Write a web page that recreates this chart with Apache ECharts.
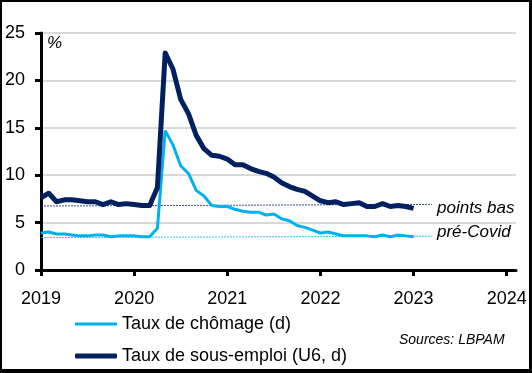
<!DOCTYPE html>
<html>
<head>
<meta charset="utf-8">
<script src="https://cdn.jsdelivr.net/npm/echarts@6/dist/echarts.min.js"></script>
<style>
html,body{margin:0;padding:0;background:#fff;}
#wrap{position:absolute;left:0;top:0;width:532px;height:373px;box-sizing:border-box;border-top:2px solid #000;border-left:2px solid #000;border-right:3px solid #000;border-bottom:4px solid #000;}
#chart{position:absolute;left:0;top:0;width:532px;height:373px;}
</style>
</head>
<body>
<div id="chart"></div>
<div id="wrap"></div>
<script>
// monthly observations, Dec 2018 .. Dec 2022 (plotted at month end)
const startYear = 2019;
const unemployment = [3.9,4.0,3.8,3.8,3.7,3.6,3.6,3.7,3.7,3.5,3.6,3.6,3.6,
  3.5,3.5,4.4,14.7,13.2,11.0,10.2,8.4,7.8,6.8,6.7,6.7,
  6.4,6.2,6.1,6.1,5.8,5.9,5.4,5.2,4.7,4.5,4.2,3.9,
  4.0,3.8,3.6,3.6,3.6,3.6,3.5,3.7,3.5,3.7,3.6,3.5];
const underemployment = [7.6,8.1,7.2,7.4,7.4,7.3,7.2,7.2,6.9,7.2,6.9,7.0,6.9,
  6.8,6.8,8.7,22.9,21.2,18.0,16.5,14.2,12.8,12.1,12.0,11.7,
  11.1,11.1,10.7,10.4,10.2,9.8,9.2,8.8,8.5,8.3,7.8,7.3,
  7.1,7.2,6.9,7.0,7.1,6.7,6.7,7.0,6.7,6.8,6.7,6.5];
const preCovidLowU6 = [[2019, 6.75], [2023.2, 6.92]];
const preCovidLowUR = [[2019, 3.42], [2023.2, 3.56]];
const yearTicks = [2019, 2020, 2021, 2022, 2023, 2024];
const seriesNames = ['Taux de chômage (d)', 'Taux de sous-emploi (U6, d)'];

const toXY = arr => arr.map((v, i) => [startYear + i / 12, v]);

const FONT = '"Liberation Sans", Arial, sans-serif';
const chart = echarts.init(document.getElementById('chart'), null, {renderer: 'canvas'});
chart.setOption({
  animation: false,
  textStyle: {fontFamily: FONT},
  grid: {left: 41, right: 16, top: 33, bottom: 103},
  xAxis: {
    type: 'value', min: 2019, max: 2024.1,
    axisLine: {show: true, onZero: false, lineStyle: {color: '#000', width: 3}},
    axisTick: {show: true, length: 6, lineStyle: {color: '#000', width: 3}, customValues: yearTicks},
    axisLabel: {customValues: yearTicks, formatter: v => String(Math.round(v)), color: '#000', fontSize: 18, fontFamily: FONT, margin: 20},
    splitLine: {show: false}
  },
  yAxis: {
    type: 'value', min: 0, max: 25, interval: 5,
    axisLine: {show: true, lineStyle: {color: '#000', width: 3}},
    axisTick: {show: true, length: 6, lineStyle: {color: '#000', width: 3}},
    axisLabel: {color: '#000', fontSize: 18, fontFamily: FONT, margin: 16},
    splitLine: {show: true, lineStyle: {color: '#d9d9d9', width: 2}}
  },
  legend: [
    {data: [seriesNames[0]], orient: 'vertical', left: 70, top: 310, itemWidth: 42, itemHeight: 3, icon: 'rect', itemGap: 4,
     textStyle: {fontSize: 18, color: '#000', fontFamily: FONT}},
    {data: [seriesNames[1]], orient: 'vertical', left: 70, top: 342, itemWidth: 42, itemHeight: 5, icon: 'roundRect', itemGap: 4,
     textStyle: {fontSize: 18, color: '#000', fontFamily: FONT}}
  ],
  series: [
    {name: 'lowU6', type: 'line', data: preCovidLowU6, symbol: 'none', silent: true,
     lineStyle: {color: '#002060', width: 1, type: [2, 1], opacity: 0.8}, z: 1},
    {name: 'lowUR', type: 'line', data: preCovidLowUR, symbol: 'none', silent: true,
     lineStyle: {color: '#00b0f0', width: 1, type: [2, 1], opacity: 0.8}, z: 1},
    {name: seriesNames[0], type: 'line', data: toXY(unemployment), symbol: 'none',
     itemStyle: {color: '#00b0f0'}, lineStyle: {color: '#00b0f0', width: 3}, z: 3},
    {name: seriesNames[1], type: 'line', data: toXY(underemployment), symbol: 'none',
     itemStyle: {color: '#002060'}, lineStyle: {color: '#002060', width: 5, join: 'round'}, z: 4}
  ],
  graphic: [
    {type: 'text', left: 47, top: 35, style: {text: '%', fontSize: 17, fontStyle: 'italic', fontFamily: FONT, fill: '#000'}},
    {type: 'text', left: 437, top: 200, style: {text: 'points bas', fontSize: 17, fontStyle: 'italic', fontFamily: FONT, fill: '#000'}},
    {type: 'text', left: 437, top: 224, style: {text: 'pré-Covid', fontSize: 17, fontStyle: 'italic', fontFamily: FONT, fill: '#000'}},
    {type: 'text', left: 399, top: 333, style: {text: 'Sources: LBPAM', fontSize: 14, fontStyle: 'italic', fontFamily: FONT, fill: '#000'}}
  ]
});
</script>
</body>
</html>
